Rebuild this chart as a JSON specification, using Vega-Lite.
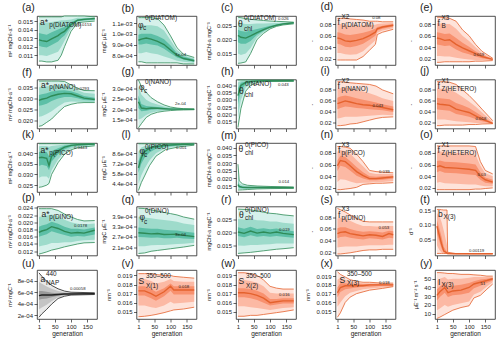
{
"$schema": "https://vega.github.io/schema/vega-lite/v6.json",
"padding": {"left": 6, "top": 2, "right": 0, "bottom": 0},
"background": "white",
"datasets": {
"d": [
{"p":"a","g":1,"lo":0.0103,"a":0.011,"b":0.0121,"m":0.0128,"c":0.0136,"d":0.0148,"hi":0.0155},
{"p":"a","g":10,"lo":0.0103,"a":0.011,"b":0.012,"m":0.0127,"c":0.0135,"d":0.0148,"hi":0.0155},
{"p":"a","g":25,"lo":0.0102,"a":0.0109,"b":0.0119,"m":0.0126,"c":0.0134,"d":0.0148,"hi":0.0155},
{"p":"a","g":40,"lo":0.0102,"a":0.0111,"b":0.0122,"m":0.0129,"c":0.0137,"d":0.0149,"hi":0.0155},
{"p":"a","g":60,"lo":0.0104,"a":0.0114,"b":0.0126,"m":0.0133,"c":0.014,"d":0.015,"hi":0.0155},
{"p":"a","g":70,"lo":0.011,"a":0.012,"b":0.013,"m":0.0136,"c":0.0142,"d":0.0151,"hi":0.0155},
{"p":"a","g":80,"lo":0.012,"a":0.0127,"b":0.0133,"m":0.0138,"c":0.0143,"d":0.0151,"hi":0.0156},
{"p":"a","g":100,"lo":0.0138,"a":0.0141,"b":0.0144,"m":0.0146,"c":0.0149,"d":0.0152,"hi":0.0156},
{"p":"a","g":120,"lo":0.0148,"a":0.0149,"b":0.015,"m":0.0151,"c":0.0152,"d":0.0154,"hi":0.0156},
{"p":"a","g":140,"lo":0.0149,"a":0.015,"b":0.0151,"m":0.0152,"c":0.0153,"d":0.0154,"hi":0.0156},
{"p":"a","g":173,"lo":0.015,"a":0.0151,"b":0.0152,"m":0.0153,"c":0.01535,"d":0.0154,"hi":0.0155},
{"p":"b","g":1,"lo":0.00074,"a":0.00082,"b":0.0009,"m":0.00094,"c":0.00099,"d":0.00107,"hi":0.00115},
{"p":"b","g":10,"lo":0.00074,"a":0.00082,"b":0.0009,"m":0.00095,"c":0.001,"d":0.00108,"hi":0.00115},
{"p":"b","g":25,"lo":0.00073,"a":0.00083,"b":0.00091,"m":0.00096,"c":0.001,"d":0.00108,"hi":0.00115},
{"p":"b","g":40,"lo":0.00073,"a":0.00082,"b":0.0009,"m":0.00095,"c":0.001,"d":0.00108,"hi":0.00115},
{"p":"b","g":60,"lo":0.00073,"a":0.00081,"b":0.00089,"m":0.00093,"c":0.00098,"d":0.00107,"hi":0.00114},
{"p":"b","g":80,"lo":0.00073,"a":0.00079,"b":0.00086,"m":0.0009,"c":0.00095,"d":0.00103,"hi":0.00108},
{"p":"b","g":100,"lo":0.00073,"a":0.00077,"b":0.00082,"m":0.00085,"c":0.00089,"d":0.00094,"hi":0.00098},
{"p":"b","g":120,"lo":0.00073,"a":0.00075,"b":0.00078,"m":0.0008,"c":0.00082,"d":0.00085,"hi":0.00087},
{"p":"b","g":140,"lo":0.00072,"a":0.00074,"b":0.00076,"m":0.00077,"c":0.00079,"d":0.0008,"hi":0.00081},
{"p":"b","g":173,"lo":0.00072,"a":0.00073,"b":0.00074,"m":0.00075,"c":0.00076,"d":0.00077,"hi":0.00078},
{"p":"c","g":1,"lo":0.0115,"a":0.015,"b":0.019,"m":0.0215,"c":0.0235,"d":0.0262,"hi":0.028},
{"p":"c","g":10,"lo":0.0116,"a":0.0145,"b":0.0185,"m":0.0208,"c":0.023,"d":0.0258,"hi":0.0278},
{"p":"c","g":25,"lo":0.012,"a":0.015,"b":0.0185,"m":0.0205,"c":0.0228,"d":0.0255,"hi":0.0275},
{"p":"c","g":40,"lo":0.015,"a":0.017,"b":0.0195,"m":0.0213,"c":0.0232,"d":0.0255,"hi":0.0272},
{"p":"c","g":60,"lo":0.02,"a":0.0208,"b":0.0217,"m":0.0225,"c":0.0238,"d":0.0257,"hi":0.027},
{"p":"c","g":80,"lo":0.0222,"a":0.0226,"b":0.023,"m":0.0235,"c":0.0243,"d":0.0257,"hi":0.0268},
{"p":"c","g":100,"lo":0.0238,"a":0.024,"b":0.0242,"m":0.0244,"c":0.0249,"d":0.0258,"hi":0.0266},
{"p":"c","g":120,"lo":0.0247,"a":0.0248,"b":0.0249,"m":0.0251,"c":0.0254,"d":0.0259,"hi":0.0265},
{"p":"c","g":140,"lo":0.0252,"a":0.0253,"b":0.0254,"m":0.0256,"c":0.0257,"d":0.026,"hi":0.0264},
{"p":"c","g":173,"lo":0.0256,"a":0.0257,"b":0.0258,"m":0.026,"c":0.02605,"d":0.0261,"hi":0.0262},
{"p":"d","g":1,"lo":0.018,"a":0.03,"b":0.046,"m":0.056,"c":0.066,"d":0.08,"hi":0.09},
{"p":"d","g":10,"lo":0.018,"a":0.03,"b":0.045,"m":0.055,"c":0.065,"d":0.08,"hi":0.09},
{"p":"d","g":25,"lo":0.018,"a":0.028,"b":0.041,"m":0.051,"c":0.062,"d":0.078,"hi":0.09},
{"p":"d","g":40,"lo":0.018,"a":0.027,"b":0.04,"m":0.05,"c":0.061,"d":0.077,"hi":0.089},
{"p":"d","g":60,"lo":0.018,"a":0.028,"b":0.042,"m":0.052,"c":0.063,"d":0.077,"hi":0.088},
{"p":"d","g":80,"lo":0.024,"a":0.033,"b":0.046,"m":0.055,"c":0.065,"d":0.078,"hi":0.087},
{"p":"d","g":100,"lo":0.035,"a":0.043,"b":0.053,"m":0.06,"c":0.068,"d":0.078,"hi":0.085},
{"p":"d","g":118,"lo":0.045,"a":0.052,"b":0.06,"m":0.066,"c":0.072,"d":0.079,"hi":0.085},
{"p":"d","g":124,"lo":0.062,"a":0.065,"b":0.069,"m":0.072,"c":0.075,"d":0.08,"hi":0.085},
{"p":"d","g":140,"lo":0.066,"a":0.069,"b":0.072,"m":0.075,"c":0.077,"d":0.081,"hi":0.084},
{"p":"d","g":173,"lo":0.071,"a":0.073,"b":0.076,"m":0.078,"c":0.08,"d":0.082,"hi":0.084},
{"p":"e","g":1,"lo":0.014,"a":0.025,"b":0.045,"m":0.056,"c":0.066,"d":0.082,"hi":0.092},
{"p":"e","g":10,"lo":0.014,"a":0.025,"b":0.044,"m":0.055,"c":0.065,"d":0.081,"hi":0.092},
{"p":"e","g":25,"lo":0.015,"a":0.024,"b":0.042,"m":0.052,"c":0.063,"d":0.08,"hi":0.091},
{"p":"e","g":40,"lo":0.015,"a":0.024,"b":0.043,"m":0.053,"c":0.064,"d":0.08,"hi":0.09},
{"p":"e","g":60,"lo":0.015,"a":0.022,"b":0.036,"m":0.045,"c":0.056,"d":0.072,"hi":0.085},
{"p":"e","g":80,"lo":0.015,"a":0.02,"b":0.031,"m":0.039,"c":0.048,"d":0.06,"hi":0.07},
{"p":"e","g":100,"lo":0.015,"a":0.019,"b":0.028,"m":0.034,"c":0.041,"d":0.051,"hi":0.06},
{"p":"e","g":120,"lo":0.016,"a":0.018,"b":0.024,"m":0.029,"c":0.033,"d":0.04,"hi":0.045},
{"p":"e","g":140,"lo":0.016,"a":0.018,"b":0.021,"m":0.024,"c":0.027,"d":0.03,"hi":0.033},
{"p":"e","g":173,"lo":0.017,"a":0.0175,"b":0.018,"m":0.019,"c":0.0195,"d":0.02,"hi":0.021},
{"p":"f","g":1,"lo":0.0172,"a":0.0215,"b":0.0265,"m":0.029,"c":0.0315,"d":0.035,"hi":0.0378},
{"p":"f","g":10,"lo":0.0175,"a":0.0218,"b":0.0268,"m":0.0295,"c":0.0318,"d":0.0352,"hi":0.0378},
{"p":"f","g":25,"lo":0.019,"a":0.0228,"b":0.0275,"m":0.03,"c":0.0322,"d":0.0354,"hi":0.0378},
{"p":"f","g":40,"lo":0.0205,"a":0.024,"b":0.0287,"m":0.031,"c":0.033,"d":0.0357,"hi":0.0378},
{"p":"f","g":60,"lo":0.0235,"a":0.0262,"b":0.0298,"m":0.0318,"c":0.0335,"d":0.036,"hi":0.0378},
{"p":"f","g":80,"lo":0.0262,"a":0.028,"b":0.0305,"m":0.0322,"c":0.0336,"d":0.0358,"hi":0.0376},
{"p":"f","g":100,"lo":0.0272,"a":0.0285,"b":0.0305,"m":0.032,"c":0.0332,"d":0.035,"hi":0.036},
{"p":"f","g":120,"lo":0.0278,"a":0.0284,"b":0.03,"m":0.031,"c":0.0322,"d":0.0337,"hi":0.0345},
{"p":"f","g":140,"lo":0.028,"a":0.0283,"b":0.0292,"m":0.03,"c":0.031,"d":0.0325,"hi":0.0335},
{"p":"f","g":173,"lo":0.028,"a":0.0283,"b":0.0289,"m":0.0294,"c":0.0302,"d":0.032,"hi":0.0334},
{"p":"g","g":1,"lo":0.00011,"a":0.00015,"b":0.000205,"m":0.000235,"c":0.000265,"d":0.00031,"hi":0.00034},
{"p":"g","g":10,"lo":0.00013,"a":0.000155,"b":0.00019,"m":0.000205,"c":0.000225,"d":0.00027,"hi":0.00031},
{"p":"g","g":25,"lo":0.00016,"a":0.000172,"b":0.000192,"m":0.000202,"c":0.000215,"d":0.000245,"hi":0.00028},
{"p":"g","g":40,"lo":0.000175,"a":0.000183,"b":0.000197,"m":0.000205,"c":0.000213,"d":0.000232,"hi":0.000255},
{"p":"g","g":60,"lo":0.000185,"a":0.00019,"b":0.000199,"m":0.000204,"c":0.00021,"d":0.000222,"hi":0.000235},
{"p":"g","g":80,"lo":0.00019,"a":0.000193,"b":0.000199,"m":0.000202,"c":0.000206,"d":0.000213,"hi":0.00022},
{"p":"g","g":100,"lo":0.000193,"a":0.000195,"b":0.000198,"m":0.0002,"c":0.000203,"d":0.000207,"hi":0.00021},
{"p":"g","g":120,"lo":0.000195,"a":0.000196,"b":0.000198,"m":0.0002,"c":0.000202,"d":0.000204,"hi":0.000205},
{"p":"g","g":140,"lo":0.000196,"a":0.000197,"b":0.000198,"m":0.0002,"c":0.000201,"d":0.000202,"hi":0.000202},
{"p":"g","g":173,"lo":0.000197,"a":0.000197,"b":0.000198,"m":0.000199,"c":0.0002,"d":0.0002,"hi":0.0002},
{"p":"h","g":1,"lo":0.0112,"a":0.018,"b":0.027,"m":0.033,"c":0.038,"d":0.042,"hi":0.0436},
{"p":"h","g":10,"lo":0.024,"a":0.03,"b":0.0365,"m":0.04,"c":0.0418,"d":0.043,"hi":0.0436},
{"p":"h","g":25,"lo":0.036,"a":0.0385,"b":0.041,"m":0.042,"c":0.0427,"d":0.0433,"hi":0.0436},
{"p":"h","g":40,"lo":0.04,"a":0.041,"b":0.042,"m":0.0426,"c":0.043,"d":0.0434,"hi":0.0436},
{"p":"h","g":60,"lo":0.042,"a":0.0424,"b":0.0428,"m":0.043,"c":0.0432,"d":0.0434,"hi":0.0436},
{"p":"h","g":80,"lo":0.0426,"a":0.0428,"b":0.043,"m":0.0431,"c":0.0432,"d":0.0434,"hi":0.0436},
{"p":"h","g":173,"lo":0.0428,"a":0.0429,"b":0.043,"m":0.0431,"c":0.0432,"d":0.0434,"hi":0.0436},
{"p":"i","g":1,"lo":0.015,"a":0.028,"b":0.045,"m":0.055,"c":0.066,"d":0.082,"hi":0.095},
{"p":"i","g":10,"lo":0.015,"a":0.029,"b":0.047,"m":0.057,"c":0.068,"d":0.083,"hi":0.095},
{"p":"i","g":25,"lo":0.016,"a":0.031,"b":0.05,"m":0.06,"c":0.07,"d":0.084,"hi":0.094},
{"p":"i","g":40,"lo":0.018,"a":0.031,"b":0.049,"m":0.058,"c":0.068,"d":0.083,"hi":0.093},
{"p":"i","g":60,"lo":0.019,"a":0.031,"b":0.047,"m":0.055,"c":0.065,"d":0.08,"hi":0.092},
{"p":"i","g":80,"lo":0.022,"a":0.032,"b":0.046,"m":0.053,"c":0.062,"d":0.077,"hi":0.091},
{"p":"i","g":100,"lo":0.025,"a":0.033,"b":0.045,"m":0.052,"c":0.06,"d":0.074,"hi":0.09},
{"p":"i","g":120,"lo":0.028,"a":0.034,"b":0.044,"m":0.05,"c":0.057,"d":0.07,"hi":0.087},
{"p":"i","g":140,"lo":0.03,"a":0.035,"b":0.043,"m":0.048,"c":0.054,"d":0.065,"hi":0.08},
{"p":"i","g":173,"lo":0.031,"a":0.034,"b":0.04,"m":0.044,"c":0.05,"d":0.06,"hi":0.073},
{"p":"j","g":1,"lo":0.015,"a":0.026,"b":0.045,"m":0.055,"c":0.066,"d":0.083,"hi":0.095},
{"p":"j","g":10,"lo":0.015,"a":0.026,"b":0.044,"m":0.054,"c":0.065,"d":0.082,"hi":0.095},
{"p":"j","g":25,"lo":0.016,"a":0.026,"b":0.043,"m":0.053,"c":0.064,"d":0.082,"hi":0.095},
{"p":"j","g":40,"lo":0.016,"a":0.025,"b":0.042,"m":0.052,"c":0.063,"d":0.081,"hi":0.094},
{"p":"j","g":60,"lo":0.016,"a":0.023,"b":0.036,"m":0.045,"c":0.056,"d":0.075,"hi":0.09},
{"p":"j","g":80,"lo":0.016,"a":0.022,"b":0.034,"m":0.042,"c":0.052,"d":0.067,"hi":0.08},
{"p":"j","g":100,"lo":0.017,"a":0.021,"b":0.031,"m":0.039,"c":0.047,"d":0.059,"hi":0.07},
{"p":"j","g":120,"lo":0.017,"a":0.02,"b":0.027,"m":0.033,"c":0.04,"d":0.05,"hi":0.058},
{"p":"j","g":140,"lo":0.018,"a":0.02,"b":0.023,"m":0.027,"c":0.032,"d":0.039,"hi":0.045},
{"p":"j","g":173,"lo":0.0185,"a":0.0186,"b":0.0188,"m":0.019,"c":0.02,"d":0.022,"hi":0.024},
{"p":"k","g":1,"lo":0.024,"a":0.0285,"b":0.034,"m":0.0378,"c":0.0405,"d":0.0432,"hi":0.0444},
{"p":"k","g":10,"lo":0.0242,"a":0.029,"b":0.0345,"m":0.038,"c":0.0407,"d":0.0433,"hi":0.0444},
{"p":"k","g":25,"lo":0.025,"a":0.029,"b":0.034,"m":0.0375,"c":0.0405,"d":0.0433,"hi":0.0444},
{"p":"k","g":32,"lo":0.0258,"a":0.028,"b":0.032,"m":0.0342,"c":0.0385,"d":0.043,"hi":0.0444},
{"p":"k","g":40,"lo":0.03,"a":0.032,"b":0.036,"m":0.0385,"c":0.041,"d":0.0433,"hi":0.0444},
{"p":"k","g":60,"lo":0.0355,"a":0.037,"b":0.0395,"m":0.041,"c":0.0422,"d":0.0436,"hi":0.0444},
{"p":"k","g":80,"lo":0.0395,"a":0.0405,"b":0.0418,"m":0.0428,"c":0.0435,"d":0.044,"hi":0.0444},
{"p":"k","g":100,"lo":0.0415,"a":0.042,"b":0.043,"m":0.0436,"c":0.0439,"d":0.0442,"hi":0.0444},
{"p":"k","g":120,"lo":0.0425,"a":0.0429,"b":0.0435,"m":0.0439,"c":0.0441,"d":0.0443,"hi":0.0444},
{"p":"k","g":173,"lo":0.0434,"a":0.0436,"b":0.0439,"m":0.0442,"c":0.0443,"d":0.04435,"hi":0.0444},
{"p":"l","g":1,"lo":0.00035,"a":0.00044,"b":0.00059,"m":0.00066,"c":0.00075,"d":0.00088,"hi":0.00099},
{"p":"l","g":10,"lo":0.00046,"a":0.00056,"b":0.00072,"m":0.0008,"c":0.00086,"d":0.00094,"hi":0.00099},
{"p":"l","g":20,"lo":0.00055,"a":0.00065,"b":0.0008,"m":0.00088,"c":0.00092,"d":0.00096,"hi":0.00099},
{"p":"l","g":35,"lo":0.00069,"a":0.00076,"b":0.00087,"m":0.00093,"c":0.00095,"d":0.00097,"hi":0.00099},
{"p":"l","g":55,"lo":0.00082,"a":0.00086,"b":0.00092,"m":0.00095,"c":0.00097,"d":0.00098,"hi":0.00099},
{"p":"l","g":85,"lo":0.00091,"a":0.00093,"b":0.00095,"m":0.00097,"c":0.00098,"d":0.000985,"hi":0.00099},
{"p":"l","g":130,"lo":0.00095,"a":0.00096,"b":0.00097,"m":0.00098,"c":0.000985,"d":0.00099,"hi":0.000992},
{"p":"l","g":173,"lo":0.00097,"a":0.000975,"b":0.00098,"m":0.000985,"c":0.00099,"d":0.000992,"hi":0.000995},
{"p":"m","g":1,"lo":0.0125,"a":0.0135,"b":0.015,"m":0.016,"c":0.0185,"d":0.024,"hi":0.0293},
{"p":"m","g":5,"lo":0.0125,"a":0.0132,"b":0.014,"m":0.0148,"c":0.0155,"d":0.0168,"hi":0.0185},
{"p":"m","g":15,"lo":0.0126,"a":0.0131,"b":0.0137,"m":0.0142,"c":0.0148,"d":0.0156,"hi":0.0165},
{"p":"m","g":30,"lo":0.0128,"a":0.0132,"b":0.0137,"m":0.0141,"c":0.0145,"d":0.0151,"hi":0.0156},
{"p":"m","g":60,"lo":0.0132,"a":0.0134,"b":0.0138,"m":0.0141,"c":0.0143,"d":0.0147,"hi":0.0151},
{"p":"m","g":100,"lo":0.0134,"a":0.0136,"b":0.0139,"m":0.0141,"c":0.0142,"d":0.0145,"hi":0.0148},
{"p":"m","g":140,"lo":0.0135,"a":0.0137,"b":0.0139,"m":0.0141,"c":0.0142,"d":0.0144,"hi":0.0146},
{"p":"m","g":173,"lo":0.0136,"a":0.0138,"b":0.0139,"m":0.014,"c":0.0141,"d":0.0143,"hi":0.0145},
{"p":"n","g":1,"lo":0.017,"a":0.03,"b":0.049,"m":0.058,"c":0.067,"d":0.082,"hi":0.091},
{"p":"n","g":10,"lo":0.017,"a":0.035,"b":0.058,"m":0.067,"c":0.075,"d":0.085,"hi":0.091},
{"p":"n","g":25,"lo":0.018,"a":0.034,"b":0.056,"m":0.065,"c":0.073,"d":0.083,"hi":0.09},
{"p":"n","g":40,"lo":0.019,"a":0.031,"b":0.05,"m":0.058,"c":0.066,"d":0.079,"hi":0.088},
{"p":"n","g":60,"lo":0.021,"a":0.028,"b":0.041,"m":0.048,"c":0.056,"d":0.068,"hi":0.078},
{"p":"n","g":80,"lo":0.026,"a":0.029,"b":0.036,"m":0.041,"c":0.047,"d":0.057,"hi":0.065},
{"p":"n","g":100,"lo":0.027,"a":0.029,"b":0.033,"m":0.036,"c":0.04,"d":0.046,"hi":0.05},
{"p":"n","g":120,"lo":0.028,"a":0.03,"b":0.033,"m":0.036,"c":0.039,"d":0.044,"hi":0.048},
{"p":"n","g":140,"lo":0.028,"a":0.03,"b":0.034,"m":0.037,"c":0.04,"d":0.044,"hi":0.047},
{"p":"n","g":173,"lo":0.029,"a":0.032,"b":0.036,"m":0.039,"c":0.041,"d":0.044,"hi":0.046},
{"p":"o","g":1,"lo":0.017,"a":0.029,"b":0.047,"m":0.056,"c":0.066,"d":0.082,"hi":0.092},
{"p":"o","g":10,"lo":0.017,"a":0.03,"b":0.049,"m":0.058,"c":0.067,"d":0.083,"hi":0.092},
{"p":"o","g":25,"lo":0.017,"a":0.028,"b":0.046,"m":0.055,"c":0.065,"d":0.081,"hi":0.092},
{"p":"o","g":60,"lo":0.017,"a":0.027,"b":0.045,"m":0.054,"c":0.064,"d":0.08,"hi":0.092},
{"p":"o","g":100,"lo":0.017,"a":0.026,"b":0.043,"m":0.052,"c":0.062,"d":0.079,"hi":0.092},
{"p":"o","g":120,"lo":0.018,"a":0.026,"b":0.042,"m":0.05,"c":0.06,"d":0.077,"hi":0.091},
{"p":"o","g":135,"lo":0.018,"a":0.024,"b":0.034,"m":0.04,"c":0.047,"d":0.058,"hi":0.065},
{"p":"o","g":150,"lo":0.019,"a":0.023,"b":0.029,"m":0.034,"c":0.038,"d":0.045,"hi":0.05},
{"p":"o","g":173,"lo":0.02,"a":0.023,"b":0.027,"m":0.03,"c":0.034,"d":0.04,"hi":0.044},
{"p":"p","g":1,"lo":0.0112,"a":0.0133,"b":0.016,"m":0.0172,"c":0.0188,"d":0.0215,"hi":0.0238},
{"p":"p","g":10,"lo":0.0114,"a":0.0135,"b":0.0163,"m":0.0176,"c":0.0191,"d":0.0217,"hi":0.0238},
{"p":"p","g":25,"lo":0.0118,"a":0.0138,"b":0.0167,"m":0.018,"c":0.0195,"d":0.0219,"hi":0.0238},
{"p":"p","g":40,"lo":0.0123,"a":0.0143,"b":0.0175,"m":0.0188,"c":0.0202,"d":0.0222,"hi":0.0238},
{"p":"p","g":60,"lo":0.0127,"a":0.0143,"b":0.017,"m":0.0183,"c":0.0196,"d":0.0217,"hi":0.0233},
{"p":"p","g":80,"lo":0.0132,"a":0.0145,"b":0.0165,"m":0.0175,"c":0.0188,"d":0.0207,"hi":0.0223},
{"p":"p","g":100,"lo":0.0136,"a":0.0145,"b":0.016,"m":0.017,"c":0.0182,"d":0.02,"hi":0.0215},
{"p":"p","g":120,"lo":0.014,"a":0.0148,"b":0.0162,"m":0.0172,"c":0.0182,"d":0.0196,"hi":0.0208},
{"p":"p","g":140,"lo":0.0143,"a":0.015,"b":0.0161,"m":0.017,"c":0.018,"d":0.0194,"hi":0.0204},
{"p":"p","g":173,"lo":0.0144,"a":0.0152,"b":0.0166,"m":0.0178,"c":0.0186,"d":0.0197,"hi":0.0205},
{"p":"q","g":1,"lo":0.000172,"a":0.000215,"b":0.00027,"m":0.000295,"c":0.000325,"d":0.00039,"hi":0.00044},
{"p":"q","g":20,"lo":0.000175,"a":0.000215,"b":0.000268,"m":0.000292,"c":0.000322,"d":0.000385,"hi":0.000438},
{"p":"q","g":40,"lo":0.000185,"a":0.00022,"b":0.000265,"m":0.000288,"c":0.000318,"d":0.00038,"hi":0.00043},
{"p":"q","g":60,"lo":0.00019,"a":0.000222,"b":0.000266,"m":0.00029,"c":0.000318,"d":0.000375,"hi":0.000422},
{"p":"q","g":80,"lo":0.000195,"a":0.000222,"b":0.000262,"m":0.000284,"c":0.000312,"d":0.00037,"hi":0.000415},
{"p":"q","g":100,"lo":0.0002,"a":0.000225,"b":0.000262,"m":0.000285,"c":0.00031,"d":0.000365,"hi":0.000408},
{"p":"q","g":120,"lo":0.000205,"a":0.000228,"b":0.000265,"m":0.000286,"c":0.000308,"d":0.00036,"hi":0.0004},
{"p":"q","g":140,"lo":0.00021,"a":0.00023,"b":0.00026,"m":0.00028,"c":0.000302,"d":0.00035,"hi":0.000388},
{"p":"q","g":173,"lo":0.00022,"a":0.000235,"b":0.000258,"m":0.000272,"c":0.000295,"d":0.00034,"hi":0.000375},
{"p":"r","g":1,"lo":0.0118,"a":0.0148,"b":0.0185,"m":0.02,"c":0.0218,"d":0.025,"hi":0.0288},
{"p":"r","g":20,"lo":0.012,"a":0.0147,"b":0.018,"m":0.0195,"c":0.0213,"d":0.0248,"hi":0.0287},
{"p":"r","g":40,"lo":0.0122,"a":0.015,"b":0.0188,"m":0.0204,"c":0.022,"d":0.025,"hi":0.0285},
{"p":"r","g":60,"lo":0.0125,"a":0.015,"b":0.0182,"m":0.0196,"c":0.0212,"d":0.0245,"hi":0.0281},
{"p":"r","g":80,"lo":0.0128,"a":0.0152,"b":0.0185,"m":0.02,"c":0.0215,"d":0.0244,"hi":0.0276},
{"p":"r","g":100,"lo":0.0131,"a":0.0153,"b":0.0182,"m":0.0196,"c":0.0211,"d":0.024,"hi":0.0272},
{"p":"r","g":120,"lo":0.0134,"a":0.0156,"b":0.0185,"m":0.02,"c":0.0214,"d":0.024,"hi":0.027},
{"p":"r","g":140,"lo":0.0136,"a":0.0156,"b":0.0182,"m":0.0195,"c":0.0209,"d":0.0236,"hi":0.0266},
{"p":"r","g":173,"lo":0.014,"a":0.0156,"b":0.0178,"m":0.019,"c":0.0203,"d":0.0232,"hi":0.0262},
{"p":"s","g":1,"lo":0.017,"a":0.028,"b":0.044,"m":0.052,"c":0.061,"d":0.078,"hi":0.095},
{"p":"s","g":10,"lo":0.017,"a":0.029,"b":0.046,"m":0.054,"c":0.063,"d":0.079,"hi":0.093},
{"p":"s","g":25,"lo":0.018,"a":0.03,"b":0.047,"m":0.055,"c":0.063,"d":0.078,"hi":0.089},
{"p":"s","g":40,"lo":0.019,"a":0.03,"b":0.045,"m":0.052,"c":0.06,"d":0.074,"hi":0.084},
{"p":"s","g":60,"lo":0.021,"a":0.03,"b":0.043,"m":0.05,"c":0.057,"d":0.069,"hi":0.078},
{"p":"s","g":80,"lo":0.023,"a":0.031,"b":0.042,"m":0.048,"c":0.055,"d":0.065,"hi":0.073},
{"p":"s","g":100,"lo":0.024,"a":0.032,"b":0.044,"m":0.05,"c":0.056,"d":0.065,"hi":0.072},
{"p":"s","g":120,"lo":0.024,"a":0.032,"b":0.043,"m":0.049,"c":0.055,"d":0.064,"hi":0.072},
{"p":"s","g":140,"lo":0.025,"a":0.032,"b":0.042,"m":0.047,"c":0.054,"d":0.064,"hi":0.072},
{"p":"s","g":160,"lo":0.025,"a":0.033,"b":0.045,"m":0.052,"c":0.057,"d":0.065,"hi":0.072},
{"p":"s","g":173,"lo":0.025,"a":0.033,"b":0.044,"m":0.05,"c":0.056,"d":0.065,"hi":0.072},
{"p":"t","g":1,"lo":0.002,"a":0.03,"b":0.07,"m":0.095,"c":0.115,"d":0.14,"hi":0.152},
{"p":"t","g":8,"lo":0.002,"a":0.015,"b":0.045,"m":0.065,"c":0.09,"d":0.13,"hi":0.152},
{"p":"t","g":15,"lo":0.002,"a":0.005,"b":0.02,"m":0.035,"c":0.06,"d":0.11,"hi":0.151},
{"p":"t","g":22,"lo":0.002,"a":0.003,"b":0.006,"m":0.01,"c":0.025,"d":0.08,"hi":0.15},
{"p":"t","g":32,"lo":0.0015,"a":0.002,"b":0.003,"m":0.004,"c":0.006,"d":0.03,"hi":0.15},
{"p":"t","g":34,"lo":0.0013,"a":0.0015,"b":0.0018,"m":0.002,"c":0.003,"d":0.004,"hi":0.006},
{"p":"t","g":60,"lo":0.0011,"a":0.0012,"b":0.0012,"m":0.0012,"c":0.0013,"d":0.0014,"hi":0.0015},
{"p":"t","g":173,"lo":0.0011,"a":0.0011,"b":0.0012,"m":0.0012,"c":0.0012,"d":0.0013,"hi":0.0014},
{"p":"u","g":1,"lo":0.00016,"a":0.0003,"b":0.00047,"m":0.00054,"c":0.00062,"d":0.00078,"hi":0.00094},
{"p":"u","g":10,"lo":0.00022,"a":0.00033,"b":0.00048,"m":0.00055,"c":0.00062,"d":0.00075,"hi":0.00088},
{"p":"u","g":25,"lo":0.0003,"a":0.00038,"b":0.00049,"m":0.00055,"c":0.00061,"d":0.0007,"hi":0.00079},
{"p":"u","g":40,"lo":0.00039,"a":0.00044,"b":0.00051,"m":0.00055,"c":0.00059,"d":0.00066,"hi":0.00072},
{"p":"u","g":60,"lo":0.00049,"a":0.00051,"b":0.00054,"m":0.00056,"c":0.00058,"d":0.00062,"hi":0.00066},
{"p":"u","g":80,"lo":0.00053,"a":0.00054,"b":0.00056,"m":0.00057,"c":0.00058,"d":0.0006,"hi":0.00062},
{"p":"u","g":100,"lo":0.00055,"a":0.000555,"b":0.000565,"m":0.00057,"c":0.00058,"d":0.00059,"hi":0.0006},
{"p":"u","g":173,"lo":0.00056,"a":0.000565,"b":0.00057,"m":0.000575,"c":0.00058,"d":0.000585,"hi":0.00059},
{"p":"v","g":1,"lo":0.01445,"a":0.0157,"b":0.0168,"m":0.0173,"c":0.0178,"d":0.0186,"hi":0.0192},
{"p":"v","g":20,"lo":0.0145,"a":0.0157,"b":0.0168,"m":0.0173,"c":0.0178,"d":0.0186,"hi":0.0192},
{"p":"v","g":40,"lo":0.0146,"a":0.0155,"b":0.0165,"m":0.017,"c":0.0175,"d":0.0184,"hi":0.0192},
{"p":"v","g":55,"lo":0.0147,"a":0.0154,"b":0.0162,"m":0.0167,"c":0.0172,"d":0.0181,"hi":0.0191},
{"p":"v","g":80,"lo":0.0149,"a":0.0157,"b":0.0167,"m":0.0172,"c":0.0176,"d":0.0183,"hi":0.019},
{"p":"v","g":100,"lo":0.0151,"a":0.0161,"b":0.0173,"m":0.0178,"c":0.0181,"d":0.0186,"hi":0.019},
{"p":"v","g":110,"lo":0.0152,"a":0.0159,"b":0.0169,"m":0.0174,"c":0.0178,"d":0.0184,"hi":0.0189},
{"p":"v","g":140,"lo":0.0153,"a":0.016,"b":0.0169,"m":0.0174,"c":0.0178,"d":0.0183,"hi":0.0188},
{"p":"v","g":173,"lo":0.0155,"a":0.0161,"b":0.0169,"m":0.0174,"c":0.0178,"d":0.0183,"hi":0.0187},
{"p":"w","g":1,"lo":0.0145,"a":0.0156,"b":0.0166,"m":0.0171,"c":0.0176,"d":0.0185,"hi":0.0193},
{"p":"w","g":20,"lo":0.0145,"a":0.0156,"b":0.0166,"m":0.0171,"c":0.0176,"d":0.0185,"hi":0.0193},
{"p":"w","g":40,"lo":0.0146,"a":0.0155,"b":0.0165,"m":0.017,"c":0.0175,"d":0.0184,"hi":0.0192},
{"p":"w","g":60,"lo":0.0146,"a":0.0154,"b":0.0163,"m":0.0168,"c":0.0173,"d":0.0182,"hi":0.019},
{"p":"w","g":80,"lo":0.0147,"a":0.0153,"b":0.016,"m":0.0165,"c":0.017,"d":0.0178,"hi":0.0185},
{"p":"w","g":100,"lo":0.0148,"a":0.0152,"b":0.0157,"m":0.016,"c":0.0164,"d":0.0171,"hi":0.0178},
{"p":"w","g":120,"lo":0.0149,"a":0.0153,"b":0.0158,"m":0.0161,"c":0.0164,"d":0.017,"hi":0.0176},
{"p":"w","g":140,"lo":0.015,"a":0.0154,"b":0.0159,"m":0.0162,"c":0.0165,"d":0.017,"hi":0.0175},
{"p":"w","g":173,"lo":0.0152,"a":0.0155,"b":0.0159,"m":0.0162,"c":0.0165,"d":0.017,"hi":0.0175},
{"p":"x","g":1,"lo":0.0143,"a":0.0155,"b":0.0166,"m":0.0171,"c":0.0177,"d":0.0186,"hi":0.0195},
{"p":"x","g":10,"lo":0.0148,"a":0.016,"b":0.0172,"m":0.0177,"c":0.0182,"d":0.0188,"hi":0.0192},
{"p":"x","g":25,"lo":0.016,"a":0.0167,"b":0.0175,"m":0.0179,"c":0.0182,"d":0.0186,"hi":0.0189},
{"p":"x","g":40,"lo":0.0166,"a":0.0171,"b":0.0176,"m":0.0179,"c":0.0181,"d":0.0184,"hi":0.0186},
{"p":"x","g":60,"lo":0.017,"a":0.0173,"b":0.0177,"m":0.0179,"c":0.0181,"d":0.0183,"hi":0.0184},
{"p":"x","g":80,"lo":0.0172,"a":0.0175,"b":0.0178,"m":0.0179,"c":0.0181,"d":0.0182,"hi":0.0183},
{"p":"x","g":100,"lo":0.0174,"a":0.0176,"b":0.0178,"m":0.018,"c":0.0181,"d":0.0182,"hi":0.0183},
{"p":"x","g":140,"lo":0.0176,"a":0.0177,"b":0.0179,"m":0.018,"c":0.0181,"d":0.0182,"hi":0.0182},
{"p":"x","g":173,"lo":0.0178,"a":0.0178,"b":0.0179,"m":0.018,"c":0.0181,"d":0.0181,"hi":0.0182},
{"p":"y","g":1,"lo":4.5,"a":14,"b":25,"m":31,"c":38,"d":48,"hi":57},
{"p":"y","g":10,"lo":6,"a":16,"b":29,"m":35,"c":41,"d":50,"hi":57},
{"p":"y","g":25,"lo":9,"a":20,"b":34,"m":40,"c":45,"d":52,"hi":56.5},
{"p":"y","g":35,"lo":11,"a":18,"b":29,"m":34,"c":40,"d":49,"hi":56},
{"p":"y","g":50,"lo":14,"a":20,"b":31,"m":36,"c":42,"d":50,"hi":56},
{"p":"y","g":75,"lo":17,"a":22,"b":32,"m":37,"c":43,"d":50,"hi":55},
{"p":"y","g":100,"lo":19,"a":24,"b":34,"m":40,"c":45,"d":51,"hi":55},
{"p":"y","g":115,"lo":28,"a":32,"b":39,"m":44,"c":47,"d":52,"hi":54.5},
{"p":"y","g":135,"lo":31,"a":35,"b":42,"m":46,"c":49,"d":52,"hi":54},
{"p":"y","g":155,"lo":38,"a":41,"b":45,"m":48,"c":50,"d":52,"hi":53},
{"p":"y","g":173,"lo":44,"a":46,"b":48,"m":50,"c":51,"d":52,"hi":53}
],
"lab": [
{"p":"a","g":4.3,"y":0.01484,"t":"a*","k":"s"},{"p":"a","g":33,"y":0.0146,"t":"p(DIATOM)","k":"u"},{"p":"a","g":123,"y":0.0146,"t":"0.0153","k":"v"},
{"p":"b","g":0,"y":0.001086,"t":"φ","k":"s"},{"p":"b","g":15,"y":0.001049,"t":"c","k":"u"},{"p":"b","g":21,"y":0.001142,"t":"0(DIATOM)","k":"u"},{"p":"b","g":114,"y":0.000807,"t":"7e-04","k":"v"},
{"p":"c","g":1.2,"y":0.02547,"t":"θ","k":"s"},{"p":"c","g":19.7,"y":0.0239,"t":"chl","k":"u"},{"p":"c","g":19.7,"y":0.0277,"t":"0(DIATOM)","k":"u"},{"p":"c","g":124.5,"y":0.0273,"t":"0.026","k":"v"},
{"p":"d","g":1.2,"y":0.0828,"t":"f","k":"s"},{"p":"d","g":13.5,"y":0.0923,"t":"X2","k":"u"},{"p":"d","g":13.5,"y":0.0785,"t":"p(DIATOM)","k":"u"},{"p":"d","g":108,"y":0.0897,"t":"0.08","k":"v"},
{"p":"e","g":2.7,"y":0.0811,"t":"f","k":"s"},{"p":"e","g":15,"y":0.0914,"t":"X3","k":"u"},{"p":"e","g":15,"y":0.0759,"t":"B","k":"u"},{"p":"e","g":113.7,"y":0.0267,"t":"0.019","k":"v"},
{"p":"f","g":7.3,"y":0.036,"t":"a*","k":"s"},{"p":"f","g":33,"y":0.0349,"t":"p(NANO)","k":"u"},{"p":"f","g":115,"y":0.034,"t":"0.0293","k":"v"},
{"p":"g","g":2.7,"y":0.000304,"t":"φ","k":"s"},{"p":"g","g":18,"y":0.000285,"t":"c","k":"u"},{"p":"g","g":21,"y":0.000332,"t":"0(NANO)","k":"u"},{"p":"g","g":113.7,"y":0.0002245,"t":"2e-04","k":"v"},
{"p":"h","g":4.25,"y":0.0361,"t":"θ","k":"s"},{"p":"h","g":22.75,"y":0.0334,"t":"chl","k":"u"},{"p":"h","g":22.75,"y":0.0406,"t":"0(NANO)","k":"u"},{"p":"h","g":124.5,"y":0.0402,"t":"0.043","k":"v"},
{"p":"i","g":1.2,"y":0.0863,"t":"f","k":"s"},{"p":"i","g":13.5,"y":0.0963,"t":"X2","k":"u"},{"p":"i","g":13.5,"y":0.0808,"t":"p(NANO)","k":"u"},{"p":"i","g":109,"y":0.0508,"t":"0.043","k":"v"},
{"p":"j","g":2.7,"y":0.0863,"t":"f","k":"s"},{"p":"j","g":15,"y":0.0963,"t":"X1","k":"u"},{"p":"j","g":15,"y":0.0808,"t":"Z(HETERO)","k":"u"},{"p":"j","g":120,"y":0.0267,"t":"0.018","k":"v"},
{"p":"k","g":5.8,"y":0.0412,"t":"a*","k":"s"},{"p":"k","g":33,"y":0.0398,"t":"p(PICO)","k":"u"},{"p":"k","g":109,"y":0.0424,"t":"0.0443","k":"v"},
{"p":"l","g":4.25,"y":0.000884,"t":"φ","k":"s"},{"p":"l","g":18,"y":0.000836,"t":"c","k":"u"},{"p":"l","g":21.2,"y":0.000952,"t":"0(PICO)","k":"u"},{"p":"l","g":116.8,"y":0.000938,"t":"0.001","k":"v"},
{"p":"m","g":2.7,"y":0.0392,"t":"θ","k":"s"},{"p":"m","g":22.75,"y":0.0369,"t":"chl","k":"u"},{"p":"m","g":22.75,"y":0.0415,"t":"0(PICO)","k":"u"},{"p":"m","g":126,"y":0.018,"t":"0.014","k":"v"},
{"p":"n","g":2.7,"y":0.085,"t":"f","k":"s"},{"p":"n","g":13.5,"y":0.0944,"t":"X3","k":"u"},{"p":"n","g":13.5,"y":0.0799,"t":"p(PICO)","k":"u"},{"p":"n","g":129,"y":0.0481,"t":"0.039","k":"v"},
{"p":"o","g":2.7,"y":0.085,"t":"f","k":"s"},{"p":"o","g":15,"y":0.0944,"t":"X1","k":"u"},{"p":"o","g":15,"y":0.0799,"t":"Z(HETERO)","k":"u"},{"p":"o","g":126,"y":0.0413,"t":"0.03","k":"v"},
{"p":"p","g":8.9,"y":0.0222,"t":"a*","k":"s"},{"p":"p","g":33,"y":0.0216,"t":"p(DINO)","k":"u"},{"p":"p","g":109,"y":0.019,"t":"0.0178","k":"v"},
{"p":"q","g":4.25,"y":0.000385,"t":"φ","k":"s"},{"p":"q","g":18,"y":0.00036,"t":"c","k":"u"},{"p":"q","g":21.2,"y":0.000422,"t":"0(DINO)","k":"u"},{"p":"q","g":113.7,"y":0.00028,"t":"3e-04","k":"v"},
{"p":"r","g":4.25,"y":0.0265,"t":"θ","k":"s"},{"p":"r","g":22.75,"y":0.0252,"t":"chl","k":"u"},{"p":"r","g":22.75,"y":0.0283,"t":"0(DINO)","k":"u"},{"p":"r","g":127.6,"y":0.0208,"t":"0.019","k":"v"},
{"p":"s","g":2.7,"y":0.0838,"t":"f","k":"s"},{"p":"s","g":13.5,"y":0.0933,"t":"X3","k":"u"},{"p":"s","g":13.5,"y":0.0787,"t":"p(DINO)","k":"u"},{"p":"s","g":127.6,"y":0.0607,"t":"0.053","k":"v"},
{"p":"t","g":4.25,"y":0.136,"t":"b","k":"s"},{"p":"t","g":21.2,"y":0.126,"t":"X(3)","k":"u"},{"p":"t","g":99.8,"y":0.0087,"t":"0.00119","k":"v"},
{"p":"u","g":5.8,"y":0.000832,"t":"a","k":"s"},{"p":"u","g":22.75,"y":0.00092,"t":"440","k":"u"},{"p":"u","g":22.75,"y":0.00077,"t":"NAP","k":"u"},{"p":"u","g":96.75,"y":0.000648,"t":"0.00058","k":"v"},
{"p":"v","g":1.2,"y":0.01839,"t":"S","k":"s"},{"p":"v","g":24.3,"y":0.01894,"t":"350–500","k":"u"},{"p":"v","g":24.3,"y":0.01789,"t":"X(1)","k":"u"},{"p":"v","g":124.5,"y":0.01778,"t":"0.018","k":"v"},
{"p":"w","g":2.7,"y":0.01839,"t":"S","k":"s"},{"p":"w","g":25.8,"y":0.01894,"t":"350–500","k":"u"},{"p":"w","g":25.8,"y":0.01789,"t":"X(2)","k":"u"},{"p":"w","g":127.6,"y":0.0169,"t":"0.016","k":"v"},
{"p":"x","g":7.3,"y":0.01856,"t":"S","k":"s"},{"p":"x","g":30.5,"y":0.0193,"t":"350–500","k":"u"},{"p":"x","g":30.5,"y":0.01816,"t":"X(3)","k":"u"},{"p":"x","g":129,"y":0.01827,"t":"0.018","k":"v"},
{"p":"y","g":4.25,"y":46.8,"t":"I","k":"s"},{"p":"y","g":15,"y":42.8,"t":"X(3)","k":"u"},{"p":"y","g":135.3,"y":44,"t":"51","k":"v"}
]
},
"data": {"name": "d"},
"columns": 5,
"spacing": {"row": 14.5, "column": 39.5},
"bounds": "flush",
"concat": [
{"title":"(a)","transform":[{"filter":"datum.p=='a'"}],"encoding":{"x":{"field":"g","type":"quantitative","title":null,"scale":{"domain":[-5,180]},"axis":{"values":[1,50,100,150],"labels":false}},"y":{"field":"lo","type":"quantitative","title":"m² mgChl-a⁻¹","scale":{"domain":[0.00984,0.0156]},"axis":{"values":[0.011,0.012,0.013,0.014,0.015],"format":".3f"}}},"layer":[
{"mark":{"type":"area","color":"#d6f1eb"},"encoding":{"y2":{"field":"hi"}}},
{"mark":{"type":"area","color":"#9edbcb"},"encoding":{"y":{"field":"a","type":"quantitative"},"y2":{"field":"d"}}},
{"mark":{"type":"area","color":"#5cbfa6"},"encoding":{"y":{"field":"b","type":"quantitative"},"y2":{"field":"c"}}},
{"mark":{"type":"line","color":"#2e8b57","strokeWidth":0.8},"encoding":{}},
{"mark":{"type":"line","color":"#2e8b57","strokeWidth":0.8},"encoding":{"y":{"field":"hi","type":"quantitative"}}},
{"mark":{"type":"line","color":"#2e8b57","strokeWidth":1.4},"encoding":{"y":{"field":"m","type":"quantitative"}}},
{"data":{"name":"lab"},"transform":[{"filter":"datum.p=='a'"}],"mark":{"type":"text","align":"left","baseline":"middle","color":"#222"},"encoding":{"y":{"field":"y","type":"quantitative"},"text":{"field":"t"},"size":{"field":"k","type":"ordinal","scale":{"domain":["s","u","v"],"range":[8.5,4.3,5]}}}}
]},
{"title":"(b)","transform":[{"filter":"datum.p=='b'"}],"encoding":{"x":{"field":"g","type":"quantitative","title":null,"scale":{"domain":[-5,180]},"axis":{"values":[1,50,100,150],"labels":false}},"y":{"field":"lo","type":"quantitative","title":"mgC μE⁻¹","scale":{"domain":[0.00071,0.001165]},"axis":{"values":[0.0008,0.0009,0.001,0.0011],"labelExpr":"replace(format(datum.value,'.1e'),'e-','e-0')"}}},"layer":[
{"mark":{"type":"area","color":"#d6f1eb"},"encoding":{"y2":{"field":"hi"}}},
{"mark":{"type":"area","color":"#9edbcb"},"encoding":{"y":{"field":"a","type":"quantitative"},"y2":{"field":"d"}}},
{"mark":{"type":"area","color":"#5cbfa6"},"encoding":{"y":{"field":"b","type":"quantitative"},"y2":{"field":"c"}}},
{"mark":{"type":"line","color":"#2e8b57","strokeWidth":0.8},"encoding":{}},
{"mark":{"type":"line","color":"#2e8b57","strokeWidth":0.8},"encoding":{"y":{"field":"hi","type":"quantitative"}}},
{"mark":{"type":"line","color":"#2e8b57","strokeWidth":1.4},"encoding":{"y":{"field":"m","type":"quantitative"}}},
{"data":{"name":"lab"},"transform":[{"filter":"datum.p=='b'"}],"mark":{"type":"text","align":"left","baseline":"middle","color":"#222"},"encoding":{"y":{"field":"y","type":"quantitative"},"text":{"field":"t"},"size":{"field":"k","type":"ordinal","scale":{"domain":["s","u","v"],"range":[8.5,4.3,5]}}}}
]},
{"title":"(c)","transform":[{"filter":"datum.p=='c'"}],"encoding":{"x":{"field":"g","type":"quantitative","title":null,"scale":{"domain":[-5,180]},"axis":{"values":[1,50,100,150],"labels":false}},"y":{"field":"lo","type":"quantitative","title":"mgChl-a mgC⁻¹","scale":{"domain":[0.0109,0.0284]},"axis":{"values":[0.015,0.02,0.025],"format":".3f"}}},"layer":[
{"mark":{"type":"area","color":"#d6f1eb"},"encoding":{"y2":{"field":"hi"}}},
{"mark":{"type":"area","color":"#9edbcb"},"encoding":{"y":{"field":"a","type":"quantitative"},"y2":{"field":"d"}}},
{"mark":{"type":"area","color":"#5cbfa6"},"encoding":{"y":{"field":"b","type":"quantitative"},"y2":{"field":"c"}}},
{"mark":{"type":"line","color":"#2e8b57","strokeWidth":0.8},"encoding":{}},
{"mark":{"type":"line","color":"#2e8b57","strokeWidth":0.8},"encoding":{"y":{"field":"hi","type":"quantitative"}}},
{"mark":{"type":"line","color":"#2e8b57","strokeWidth":1.4},"encoding":{"y":{"field":"m","type":"quantitative"}}},
{"data":{"name":"lab"},"transform":[{"filter":"datum.p=='c'"}],"mark":{"type":"text","align":"left","baseline":"middle","color":"#222"},"encoding":{"y":{"field":"y","type":"quantitative"},"text":{"field":"t"},"size":{"field":"k","type":"ordinal","scale":{"domain":["s","u","v"],"range":[8.5,4.3,5]}}}}
]},
{"title":"(d)","transform":[{"filter":"datum.p=='d'"}],"encoding":{"x":{"field":"g","type":"quantitative","title":null,"scale":{"domain":[-5,180]},"axis":{"values":[1,50,100,150],"labels":false}},"y":{"field":"lo","type":"quantitative","title":"-","scale":{"domain":[0.0094,0.094]},"axis":{"values":[0.02,0.04,0.06,0.08],"format":".2f"}}},"layer":[
{"mark":{"type":"area","color":"#fee3da"},"encoding":{"y2":{"field":"hi"}}},
{"mark":{"type":"area","color":"#fcb9a4"},"encoding":{"y":{"field":"a","type":"quantitative"},"y2":{"field":"d"}}},
{"mark":{"type":"area","color":"#f8916f"},"encoding":{"y":{"field":"b","type":"quantitative"},"y2":{"field":"c"}}},
{"mark":{"type":"line","color":"#e4622e","strokeWidth":0.8},"encoding":{}},
{"mark":{"type":"line","color":"#e4622e","strokeWidth":0.8},"encoding":{"y":{"field":"hi","type":"quantitative"}}},
{"mark":{"type":"line","color":"#e4622e","strokeWidth":1.4},"encoding":{"y":{"field":"m","type":"quantitative"}}},
{"data":{"name":"lab"},"transform":[{"filter":"datum.p=='d'"}],"mark":{"type":"text","align":"left","baseline":"middle","color":"#222"},"encoding":{"y":{"field":"y","type":"quantitative"},"text":{"field":"t"},"size":{"field":"k","type":"ordinal","scale":{"domain":["s","u","v"],"range":[8.5,4.3,5]}}}}
]},
{"title":"(e)","transform":[{"filter":"datum.p=='e'"}],"encoding":{"x":{"field":"g","type":"quantitative","title":null,"scale":{"domain":[-5,180]},"axis":{"values":[1,50,100,150],"labels":false}},"y":{"field":"lo","type":"quantitative","title":"-","scale":{"domain":[0.0094,0.094]},"axis":{"values":[0.02,0.04,0.06,0.08],"format":".2f"}}},"layer":[
{"mark":{"type":"area","color":"#fee3da"},"encoding":{"y2":{"field":"hi"}}},
{"mark":{"type":"area","color":"#fcb9a4"},"encoding":{"y":{"field":"a","type":"quantitative"},"y2":{"field":"d"}}},
{"mark":{"type":"area","color":"#f8916f"},"encoding":{"y":{"field":"b","type":"quantitative"},"y2":{"field":"c"}}},
{"mark":{"type":"line","color":"#e4622e","strokeWidth":0.8},"encoding":{}},
{"mark":{"type":"line","color":"#e4622e","strokeWidth":0.8},"encoding":{"y":{"field":"hi","type":"quantitative"}}},
{"mark":{"type":"line","color":"#e4622e","strokeWidth":1.4},"encoding":{"y":{"field":"m","type":"quantitative"}}},
{"data":{"name":"lab"},"transform":[{"filter":"datum.p=='e'"}],"mark":{"type":"text","align":"left","baseline":"middle","color":"#222"},"encoding":{"y":{"field":"y","type":"quantitative"},"text":{"field":"t"},"size":{"field":"k","type":"ordinal","scale":{"domain":["s","u","v"],"range":[8.5,4.3,5]}}}}
]},
{"title":"(f)","transform":[{"filter":"datum.p=='f'"}],"encoding":{"x":{"field":"g","type":"quantitative","title":null,"scale":{"domain":[-5,180]},"axis":{"values":[1,50,100,150],"labels":false}},"y":{"field":"lo","type":"quantitative","title":"m² mgChl-a⁻¹","scale":{"domain":[0.0162,0.0385]},"axis":{"values":[0.02,0.025,0.03,0.035],"format":".3f"}}},"layer":[
{"mark":{"type":"area","color":"#d6f1eb"},"encoding":{"y2":{"field":"hi"}}},
{"mark":{"type":"area","color":"#9edbcb"},"encoding":{"y":{"field":"a","type":"quantitative"},"y2":{"field":"d"}}},
{"mark":{"type":"area","color":"#5cbfa6"},"encoding":{"y":{"field":"b","type":"quantitative"},"y2":{"field":"c"}}},
{"mark":{"type":"line","color":"#2e8b57","strokeWidth":0.8},"encoding":{}},
{"mark":{"type":"line","color":"#2e8b57","strokeWidth":0.8},"encoding":{"y":{"field":"hi","type":"quantitative"}}},
{"mark":{"type":"line","color":"#2e8b57","strokeWidth":1.4},"encoding":{"y":{"field":"m","type":"quantitative"}}},
{"data":{"name":"lab"},"transform":[{"filter":"datum.p=='f'"}],"mark":{"type":"text","align":"left","baseline":"middle","color":"#222"},"encoding":{"y":{"field":"y","type":"quantitative"},"text":{"field":"t"},"size":{"field":"k","type":"ordinal","scale":{"domain":["s","u","v"],"range":[8.5,4.3,5]}}}}
]},
{"title":"(g)","transform":[{"filter":"datum.p=='g'"}],"encoding":{"x":{"field":"g","type":"quantitative","title":null,"scale":{"domain":[-5,180]},"axis":{"values":[1,50,100,150],"labels":false}},"y":{"field":"lo","type":"quantitative","title":"mgC μE⁻¹","scale":{"domain":[0.000107,0.000342]},"axis":{"values":[0.00015,0.0002,0.00025,0.0003],"labelExpr":"replace(format(datum.value,'.1e'),'e-','e-0')"}}},"layer":[
{"mark":{"type":"area","color":"#d6f1eb"},"encoding":{"y2":{"field":"hi"}}},
{"mark":{"type":"area","color":"#9edbcb"},"encoding":{"y":{"field":"a","type":"quantitative"},"y2":{"field":"d"}}},
{"mark":{"type":"area","color":"#5cbfa6"},"encoding":{"y":{"field":"b","type":"quantitative"},"y2":{"field":"c"}}},
{"mark":{"type":"line","color":"#2e8b57","strokeWidth":0.8},"encoding":{}},
{"mark":{"type":"line","color":"#2e8b57","strokeWidth":0.8},"encoding":{"y":{"field":"hi","type":"quantitative"}}},
{"mark":{"type":"line","color":"#2e8b57","strokeWidth":1.4},"encoding":{"y":{"field":"m","type":"quantitative"}}},
{"data":{"name":"lab"},"transform":[{"filter":"datum.p=='g'"}],"mark":{"type":"text","align":"left","baseline":"middle","color":"#222"},"encoding":{"y":{"field":"y","type":"quantitative"},"text":{"field":"t"},"size":{"field":"k","type":"ordinal","scale":{"domain":["s","u","v"],"range":[8.5,4.3,5]}}}}
]},
{"title":"(h)","transform":[{"filter":"datum.p=='h'"}],"encoding":{"x":{"field":"g","type":"quantitative","title":null,"scale":{"domain":[-5,180]},"axis":{"values":[1,50,100,150],"labels":false}},"y":{"field":"lo","type":"quantitative","title":"mgChl-a mgC⁻¹","scale":{"domain":[0.0105,0.044]},"axis":{"values":[0.015,0.02,0.025,0.03,0.035,0.04],"format":".3f"}}},"layer":[
{"mark":{"type":"area","color":"#d6f1eb"},"encoding":{"y2":{"field":"hi"}}},
{"mark":{"type":"area","color":"#9edbcb"},"encoding":{"y":{"field":"a","type":"quantitative"},"y2":{"field":"d"}}},
{"mark":{"type":"area","color":"#5cbfa6"},"encoding":{"y":{"field":"b","type":"quantitative"},"y2":{"field":"c"}}},
{"mark":{"type":"line","color":"#2e8b57","strokeWidth":0.8},"encoding":{}},
{"mark":{"type":"line","color":"#2e8b57","strokeWidth":0.8},"encoding":{"y":{"field":"hi","type":"quantitative"}}},
{"mark":{"type":"line","color":"#2e8b57","strokeWidth":1.4},"encoding":{"y":{"field":"m","type":"quantitative"}}},
{"data":{"name":"lab"},"transform":[{"filter":"datum.p=='h'"}],"mark":{"type":"text","align":"left","baseline":"middle","color":"#222"},"encoding":{"y":{"field":"y","type":"quantitative"},"text":{"field":"t"},"size":{"field":"k","type":"ordinal","scale":{"domain":["s","u","v"],"range":[8.5,4.3,5]}}}}
]},
{"title":"(i)","transform":[{"filter":"datum.p=='i'"}],"encoding":{"x":{"field":"g","type":"quantitative","title":null,"scale":{"domain":[-5,180]},"axis":{"values":[1,50,100,150],"labels":false}},"y":{"field":"lo","type":"quantitative","title":"-","scale":{"domain":[0.0098,0.099]},"axis":{"values":[0.02,0.04,0.06,0.08],"format":".2f"}}},"layer":[
{"mark":{"type":"area","color":"#fee3da"},"encoding":{"y2":{"field":"hi"}}},
{"mark":{"type":"area","color":"#fcb9a4"},"encoding":{"y":{"field":"a","type":"quantitative"},"y2":{"field":"d"}}},
{"mark":{"type":"area","color":"#f8916f"},"encoding":{"y":{"field":"b","type":"quantitative"},"y2":{"field":"c"}}},
{"mark":{"type":"line","color":"#e4622e","strokeWidth":0.8},"encoding":{}},
{"mark":{"type":"line","color":"#e4622e","strokeWidth":0.8},"encoding":{"y":{"field":"hi","type":"quantitative"}}},
{"mark":{"type":"line","color":"#e4622e","strokeWidth":1.4},"encoding":{"y":{"field":"m","type":"quantitative"}}},
{"data":{"name":"lab"},"transform":[{"filter":"datum.p=='i'"}],"mark":{"type":"text","align":"left","baseline":"middle","color":"#222"},"encoding":{"y":{"field":"y","type":"quantitative"},"text":{"field":"t"},"size":{"field":"k","type":"ordinal","scale":{"domain":["s","u","v"],"range":[8.5,4.3,5]}}}}
]},
{"title":"(j)","transform":[{"filter":"datum.p=='j'"}],"encoding":{"x":{"field":"g","type":"quantitative","title":null,"scale":{"domain":[-5,180]},"axis":{"values":[1,50,100,150],"labels":false}},"y":{"field":"lo","type":"quantitative","title":"-","scale":{"domain":[0.0098,0.099]},"axis":{"values":[0.02,0.04,0.06,0.08],"format":".2f"}}},"layer":[
{"mark":{"type":"area","color":"#fee3da"},"encoding":{"y2":{"field":"hi"}}},
{"mark":{"type":"area","color":"#fcb9a4"},"encoding":{"y":{"field":"a","type":"quantitative"},"y2":{"field":"d"}}},
{"mark":{"type":"area","color":"#f8916f"},"encoding":{"y":{"field":"b","type":"quantitative"},"y2":{"field":"c"}}},
{"mark":{"type":"line","color":"#e4622e","strokeWidth":0.8},"encoding":{}},
{"mark":{"type":"line","color":"#e4622e","strokeWidth":0.8},"encoding":{"y":{"field":"hi","type":"quantitative"}}},
{"mark":{"type":"line","color":"#e4622e","strokeWidth":1.4},"encoding":{"y":{"field":"m","type":"quantitative"}}},
{"data":{"name":"lab"},"transform":[{"filter":"datum.p=='j'"}],"mark":{"type":"text","align":"left","baseline":"middle","color":"#222"},"encoding":{"y":{"field":"y","type":"quantitative"},"text":{"field":"t"},"size":{"field":"k","type":"ordinal","scale":{"domain":["s","u","v"],"range":[8.5,4.3,5]}}}}
]},
{"title":"(k)","transform":[{"filter":"datum.p=='k'"}],"encoding":{"x":{"field":"g","type":"quantitative","title":null,"scale":{"domain":[-5,180]},"axis":{"values":[1,50,100,150],"labels":false}},"y":{"field":"lo","type":"quantitative","title":"m² mgChl-a⁻¹","scale":{"domain":[0.0218,0.0447]},"axis":{"values":[0.025,0.03,0.035,0.04],"format":".3f"}}},"layer":[
{"mark":{"type":"area","color":"#d6f1eb"},"encoding":{"y2":{"field":"hi"}}},
{"mark":{"type":"area","color":"#9edbcb"},"encoding":{"y":{"field":"a","type":"quantitative"},"y2":{"field":"d"}}},
{"mark":{"type":"area","color":"#5cbfa6"},"encoding":{"y":{"field":"b","type":"quantitative"},"y2":{"field":"c"}}},
{"mark":{"type":"line","color":"#2e8b57","strokeWidth":0.8},"encoding":{}},
{"mark":{"type":"line","color":"#2e8b57","strokeWidth":0.8},"encoding":{"y":{"field":"hi","type":"quantitative"}}},
{"mark":{"type":"line","color":"#2e8b57","strokeWidth":1.4},"encoding":{"y":{"field":"m","type":"quantitative"}}},
{"data":{"name":"lab"},"transform":[{"filter":"datum.p=='k'"}],"mark":{"type":"text","align":"left","baseline":"middle","color":"#222"},"encoding":{"y":{"field":"y","type":"quantitative"},"text":{"field":"t"},"size":{"field":"k","type":"ordinal","scale":{"domain":["s","u","v"],"range":[8.5,4.3,5]}}}}
]},
{"title":"(l)","transform":[{"filter":"datum.p=='l'"}],"encoding":{"x":{"field":"g","type":"quantitative","title":null,"scale":{"domain":[-5,180]},"axis":{"values":[1,50,100,150],"labels":false}},"y":{"field":"lo","type":"quantitative","title":"mgC μE⁻¹","scale":{"domain":[0.00033,0.001]},"axis":{"values":[0.00044,0.00058,0.00072,0.00086],"labelExpr":"replace(format(datum.value,'.1e'),'e-','e-0')"}}},"layer":[
{"mark":{"type":"area","color":"#d6f1eb"},"encoding":{"y2":{"field":"hi"}}},
{"mark":{"type":"area","color":"#9edbcb"},"encoding":{"y":{"field":"a","type":"quantitative"},"y2":{"field":"d"}}},
{"mark":{"type":"area","color":"#5cbfa6"},"encoding":{"y":{"field":"b","type":"quantitative"},"y2":{"field":"c"}}},
{"mark":{"type":"line","color":"#2e8b57","strokeWidth":0.8},"encoding":{}},
{"mark":{"type":"line","color":"#2e8b57","strokeWidth":0.8},"encoding":{"y":{"field":"hi","type":"quantitative"}}},
{"mark":{"type":"line","color":"#2e8b57","strokeWidth":1.4},"encoding":{"y":{"field":"m","type":"quantitative"}}},
{"data":{"name":"lab"},"transform":[{"filter":"datum.p=='l'"}],"mark":{"type":"text","align":"left","baseline":"middle","color":"#222"},"encoding":{"y":{"field":"y","type":"quantitative"},"text":{"field":"t"},"size":{"field":"k","type":"ordinal","scale":{"domain":["s","u","v"],"range":[8.5,4.3,5]}}}}
]},
{"title":"(m)","transform":[{"filter":"datum.p=='m'"}],"encoding":{"x":{"field":"g","type":"quantitative","title":null,"scale":{"domain":[-5,180]},"axis":{"values":[1,50,100,150],"labels":false}},"y":{"field":"lo","type":"quantitative","title":"mgChl-a mgC⁻¹","scale":{"domain":[0.0112,0.0431]},"axis":{"values":[0.015,0.02,0.025,0.03,0.035,0.04],"format":".3f"}}},"layer":[
{"mark":{"type":"area","color":"#d6f1eb"},"encoding":{"y2":{"field":"hi"}}},
{"mark":{"type":"area","color":"#9edbcb"},"encoding":{"y":{"field":"a","type":"quantitative"},"y2":{"field":"d"}}},
{"mark":{"type":"area","color":"#5cbfa6"},"encoding":{"y":{"field":"b","type":"quantitative"},"y2":{"field":"c"}}},
{"mark":{"type":"line","color":"#2e8b57","strokeWidth":0.8},"encoding":{}},
{"mark":{"type":"line","color":"#2e8b57","strokeWidth":0.8},"encoding":{"y":{"field":"hi","type":"quantitative"}}},
{"mark":{"type":"line","color":"#2e8b57","strokeWidth":1.4},"encoding":{"y":{"field":"m","type":"quantitative"}}},
{"data":{"name":"lab"},"transform":[{"filter":"datum.p=='m'"}],"mark":{"type":"text","align":"left","baseline":"middle","color":"#222"},"encoding":{"y":{"field":"y","type":"quantitative"},"text":{"field":"t"},"size":{"field":"k","type":"ordinal","scale":{"domain":["s","u","v"],"range":[8.5,4.3,5]}}}}
]},
{"title":"(n)","transform":[{"filter":"datum.p=='n'"}],"encoding":{"x":{"field":"g","type":"quantitative","title":null,"scale":{"domain":[-5,180]},"axis":{"values":[1,50,100,150],"labels":false}},"y":{"field":"lo","type":"quantitative","title":"-","scale":{"domain":[0.013,0.097]},"axis":{"values":[0.02,0.04,0.06,0.08],"format":".2f"}}},"layer":[
{"mark":{"type":"area","color":"#fee3da"},"encoding":{"y2":{"field":"hi"}}},
{"mark":{"type":"area","color":"#fcb9a4"},"encoding":{"y":{"field":"a","type":"quantitative"},"y2":{"field":"d"}}},
{"mark":{"type":"area","color":"#f8916f"},"encoding":{"y":{"field":"b","type":"quantitative"},"y2":{"field":"c"}}},
{"mark":{"type":"line","color":"#e4622e","strokeWidth":0.8},"encoding":{}},
{"mark":{"type":"line","color":"#e4622e","strokeWidth":0.8},"encoding":{"y":{"field":"hi","type":"quantitative"}}},
{"mark":{"type":"line","color":"#e4622e","strokeWidth":1.4},"encoding":{"y":{"field":"m","type":"quantitative"}}},
{"data":{"name":"lab"},"transform":[{"filter":"datum.p=='n'"}],"mark":{"type":"text","align":"left","baseline":"middle","color":"#222"},"encoding":{"y":{"field":"y","type":"quantitative"},"text":{"field":"t"},"size":{"field":"k","type":"ordinal","scale":{"domain":["s","u","v"],"range":[8.5,4.3,5]}}}}
]},
{"title":"(o)","transform":[{"filter":"datum.p=='o'"}],"encoding":{"x":{"field":"g","type":"quantitative","title":null,"scale":{"domain":[-5,180]},"axis":{"values":[1,50,100,150],"labels":false}},"y":{"field":"lo","type":"quantitative","title":"-","scale":{"domain":[0.013,0.097]},"axis":{"values":[0.02,0.04,0.06,0.08],"format":".2f"}}},"layer":[
{"mark":{"type":"area","color":"#fee3da"},"encoding":{"y2":{"field":"hi"}}},
{"mark":{"type":"area","color":"#fcb9a4"},"encoding":{"y":{"field":"a","type":"quantitative"},"y2":{"field":"d"}}},
{"mark":{"type":"area","color":"#f8916f"},"encoding":{"y":{"field":"b","type":"quantitative"},"y2":{"field":"c"}}},
{"mark":{"type":"line","color":"#e4622e","strokeWidth":0.8},"encoding":{}},
{"mark":{"type":"line","color":"#e4622e","strokeWidth":0.8},"encoding":{"y":{"field":"hi","type":"quantitative"}}},
{"mark":{"type":"line","color":"#e4622e","strokeWidth":1.4},"encoding":{"y":{"field":"m","type":"quantitative"}}},
{"data":{"name":"lab"},"transform":[{"filter":"datum.p=='o'"}],"mark":{"type":"text","align":"left","baseline":"middle","color":"#222"},"encoding":{"y":{"field":"y","type":"quantitative"},"text":{"field":"t"},"size":{"field":"k","type":"ordinal","scale":{"domain":["s","u","v"],"range":[8.5,4.3,5]}}}}
]},
{"title":"(p)","transform":[{"filter":"datum.p=='p'"}],"encoding":{"x":{"field":"g","type":"quantitative","title":null,"scale":{"domain":[-5,180]},"axis":{"values":[1,50,100,150],"labels":false}},"y":{"field":"lo","type":"quantitative","title":"m² mgChl-a⁻¹","scale":{"domain":[0.0108,0.0244]},"axis":{"values":[0.012,0.014,0.016,0.018,0.02,0.022,0.024],"format":".3f"}}},"layer":[
{"mark":{"type":"area","color":"#d6f1eb"},"encoding":{"y2":{"field":"hi"}}},
{"mark":{"type":"area","color":"#9edbcb"},"encoding":{"y":{"field":"a","type":"quantitative"},"y2":{"field":"d"}}},
{"mark":{"type":"area","color":"#5cbfa6"},"encoding":{"y":{"field":"b","type":"quantitative"},"y2":{"field":"c"}}},
{"mark":{"type":"line","color":"#2e8b57","strokeWidth":0.8},"encoding":{}},
{"mark":{"type":"line","color":"#2e8b57","strokeWidth":0.8},"encoding":{"y":{"field":"hi","type":"quantitative"}}},
{"mark":{"type":"line","color":"#2e8b57","strokeWidth":1.4},"encoding":{"y":{"field":"m","type":"quantitative"}}},
{"data":{"name":"lab"},"transform":[{"filter":"datum.p=='p'"}],"mark":{"type":"text","align":"left","baseline":"middle","color":"#222"},"encoding":{"y":{"field":"y","type":"quantitative"},"text":{"field":"t"},"size":{"field":"k","type":"ordinal","scale":{"domain":["s","u","v"],"range":[8.5,4.3,5]}}}}
]},
{"title":"(q)","transform":[{"filter":"datum.p=='q'"}],"encoding":{"x":{"field":"g","type":"quantitative","title":null,"scale":{"domain":[-5,180]},"axis":{"values":[1,50,100,150],"labels":false}},"y":{"field":"lo","type":"quantitative","title":"mgC μE⁻¹","scale":{"domain":[0.00016,0.00045]},"axis":{"values":[0.00021,0.00027,0.00033,0.00039],"labelExpr":"replace(format(datum.value,'.1e'),'e-','e-0')"}}},"layer":[
{"mark":{"type":"area","color":"#d6f1eb"},"encoding":{"y2":{"field":"hi"}}},
{"mark":{"type":"area","color":"#9edbcb"},"encoding":{"y":{"field":"a","type":"quantitative"},"y2":{"field":"d"}}},
{"mark":{"type":"area","color":"#5cbfa6"},"encoding":{"y":{"field":"b","type":"quantitative"},"y2":{"field":"c"}}},
{"mark":{"type":"line","color":"#2e8b57","strokeWidth":0.8},"encoding":{}},
{"mark":{"type":"line","color":"#2e8b57","strokeWidth":0.8},"encoding":{"y":{"field":"hi","type":"quantitative"}}},
{"mark":{"type":"line","color":"#2e8b57","strokeWidth":1.4},"encoding":{"y":{"field":"m","type":"quantitative"}}},
{"data":{"name":"lab"},"transform":[{"filter":"datum.p=='q'"}],"mark":{"type":"text","align":"left","baseline":"middle","color":"#222"},"encoding":{"y":{"field":"y","type":"quantitative"},"text":{"field":"t"},"size":{"field":"k","type":"ordinal","scale":{"domain":["s","u","v"],"range":[8.5,4.3,5]}}}}
]},
{"title":"(r)","transform":[{"filter":"datum.p=='r'"}],"encoding":{"x":{"field":"g","type":"quantitative","title":null,"scale":{"domain":[-5,180]},"axis":{"values":[1,50,100,150],"labels":false}},"y":{"field":"lo","type":"quantitative","title":"mgChl-a mgC⁻¹","scale":{"domain":[0.011,0.0298]},"axis":{"values":[0.015,0.02,0.025],"format":".3f"}}},"layer":[
{"mark":{"type":"area","color":"#d6f1eb"},"encoding":{"y2":{"field":"hi"}}},
{"mark":{"type":"area","color":"#9edbcb"},"encoding":{"y":{"field":"a","type":"quantitative"},"y2":{"field":"d"}}},
{"mark":{"type":"area","color":"#5cbfa6"},"encoding":{"y":{"field":"b","type":"quantitative"},"y2":{"field":"c"}}},
{"mark":{"type":"line","color":"#2e8b57","strokeWidth":0.8},"encoding":{}},
{"mark":{"type":"line","color":"#2e8b57","strokeWidth":0.8},"encoding":{"y":{"field":"hi","type":"quantitative"}}},
{"mark":{"type":"line","color":"#2e8b57","strokeWidth":1.4},"encoding":{"y":{"field":"m","type":"quantitative"}}},
{"data":{"name":"lab"},"transform":[{"filter":"datum.p=='r'"}],"mark":{"type":"text","align":"left","baseline":"middle","color":"#222"},"encoding":{"y":{"field":"y","type":"quantitative"},"text":{"field":"t"},"size":{"field":"k","type":"ordinal","scale":{"domain":["s","u","v"],"range":[8.5,4.3,5]}}}}
]},
{"title":"(s)","transform":[{"filter":"datum.p=='s'"}],"encoding":{"x":{"field":"g","type":"quantitative","title":null,"scale":{"domain":[-5,180]},"axis":{"values":[1,50,100,150],"labels":false}},"y":{"field":"lo","type":"quantitative","title":"-","scale":{"domain":[0.0144,0.0984]},"axis":{"values":[0.02,0.04,0.06,0.08],"format":".2f"}}},"layer":[
{"mark":{"type":"area","color":"#fee3da"},"encoding":{"y2":{"field":"hi"}}},
{"mark":{"type":"area","color":"#fcb9a4"},"encoding":{"y":{"field":"a","type":"quantitative"},"y2":{"field":"d"}}},
{"mark":{"type":"area","color":"#f8916f"},"encoding":{"y":{"field":"b","type":"quantitative"},"y2":{"field":"c"}}},
{"mark":{"type":"line","color":"#e4622e","strokeWidth":0.8},"encoding":{}},
{"mark":{"type":"line","color":"#e4622e","strokeWidth":0.8},"encoding":{"y":{"field":"hi","type":"quantitative"}}},
{"mark":{"type":"line","color":"#e4622e","strokeWidth":1.4},"encoding":{"y":{"field":"m","type":"quantitative"}}},
{"data":{"name":"lab"},"transform":[{"filter":"datum.p=='s'"}],"mark":{"type":"text","align":"left","baseline":"middle","color":"#222"},"encoding":{"y":{"field":"y","type":"quantitative"},"text":{"field":"t"},"size":{"field":"k","type":"ordinal","scale":{"domain":["s","u","v"],"range":[8.5,4.3,5]}}}}
]},
{"title":"(t)","transform":[{"filter":"datum.p=='t'"}],"encoding":{"x":{"field":"g","type":"quantitative","title":null,"scale":{"domain":[-5,180]},"axis":{"values":[1,50,100,150],"labels":false}},"y":{"field":"lo","type":"quantitative","title":"d⁻¹","scale":{"domain":[-0.005,0.162]},"axis":{"values":[0.05,0.1,0.15],"format":".2f"}}},"layer":[
{"mark":{"type":"area","color":"#fee3da"},"encoding":{"y2":{"field":"hi"}}},
{"mark":{"type":"area","color":"#fcb9a4"},"encoding":{"y":{"field":"a","type":"quantitative"},"y2":{"field":"d"}}},
{"mark":{"type":"area","color":"#f8916f"},"encoding":{"y":{"field":"b","type":"quantitative"},"y2":{"field":"c"}}},
{"mark":{"type":"line","color":"#e4622e","strokeWidth":0.8},"encoding":{}},
{"mark":{"type":"line","color":"#e4622e","strokeWidth":0.8},"encoding":{"y":{"field":"hi","type":"quantitative"}}},
{"mark":{"type":"line","color":"#e4622e","strokeWidth":1.4},"encoding":{"y":{"field":"m","type":"quantitative"}}},
{"data":{"name":"lab"},"transform":[{"filter":"datum.p=='t'"}],"mark":{"type":"text","align":"left","baseline":"middle","color":"#222"},"encoding":{"y":{"field":"y","type":"quantitative"},"text":{"field":"t"},"size":{"field":"k","type":"ordinal","scale":{"domain":["s","u","v"],"range":[8.5,4.3,5]}}}}
]},
{"title":"(u)","transform":[{"filter":"datum.p=='u'"}],"encoding":{"x":{"field":"g","type":"quantitative","title":"generation","scale":{"domain":[-5,180]},"axis":{"values":[1,50,100,150]}},"y":{"field":"lo","type":"quantitative","title":"m² mgC⁻¹","scale":{"domain":[0.00013,0.00099]},"axis":{"values":[0.0002,0.0004,0.0006,0.0008],"labelExpr":"replace(format(datum.value,'.0e'),'e-','e-0')"}}},"layer":[
{"mark":{"type":"area","color":"#e8e8e8"},"encoding":{"y2":{"field":"hi"}}},
{"mark":{"type":"area","color":"#c4c4c4"},"encoding":{"y":{"field":"a","type":"quantitative"},"y2":{"field":"d"}}},
{"mark":{"type":"area","color":"#999999"},"encoding":{"y":{"field":"b","type":"quantitative"},"y2":{"field":"c"}}},
{"mark":{"type":"line","color":"#222222","strokeWidth":0.8},"encoding":{}},
{"mark":{"type":"line","color":"#222222","strokeWidth":0.8},"encoding":{"y":{"field":"hi","type":"quantitative"}}},
{"mark":{"type":"line","color":"#222222","strokeWidth":1.4},"encoding":{"y":{"field":"m","type":"quantitative"}}},
{"data":{"name":"lab"},"transform":[{"filter":"datum.p=='u'"}],"mark":{"type":"text","align":"left","baseline":"middle","color":"#222"},"encoding":{"y":{"field":"y","type":"quantitative"},"text":{"field":"t"},"size":{"field":"k","type":"ordinal","scale":{"domain":["s","u","v"],"range":[8.5,4.3,5]}}}}
]},
{"title":"(v)","transform":[{"filter":"datum.p=='v'"}],"encoding":{"x":{"field":"g","type":"quantitative","title":"generation","scale":{"domain":[-5,180]},"axis":{"values":[1,50,100,150]}},"y":{"field":"lo","type":"quantitative","title":"nm⁻¹","scale":{"domain":[0.0142,0.0196]},"axis":{"values":[0.015,0.016,0.017,0.018,0.019],"format":".3f"}}},"layer":[
{"mark":{"type":"area","color":"#fee3da"},"encoding":{"y2":{"field":"hi"}}},
{"mark":{"type":"area","color":"#fcb9a4"},"encoding":{"y":{"field":"a","type":"quantitative"},"y2":{"field":"d"}}},
{"mark":{"type":"area","color":"#f8916f"},"encoding":{"y":{"field":"b","type":"quantitative"},"y2":{"field":"c"}}},
{"mark":{"type":"line","color":"#e4622e","strokeWidth":0.8},"encoding":{}},
{"mark":{"type":"line","color":"#e4622e","strokeWidth":0.8},"encoding":{"y":{"field":"hi","type":"quantitative"}}},
{"mark":{"type":"line","color":"#e4622e","strokeWidth":1.4},"encoding":{"y":{"field":"m","type":"quantitative"}}},
{"data":{"name":"lab"},"transform":[{"filter":"datum.p=='v'"}],"mark":{"type":"text","align":"left","baseline":"middle","color":"#222"},"encoding":{"y":{"field":"y","type":"quantitative"},"text":{"field":"t"},"size":{"field":"k","type":"ordinal","scale":{"domain":["s","u","v"],"range":[8.5,4.3,5]}}}}
]},
{"title":"(w)","transform":[{"filter":"datum.p=='w'"}],"encoding":{"x":{"field":"g","type":"quantitative","title":"generation","scale":{"domain":[-5,180]},"axis":{"values":[1,50,100,150]}},"y":{"field":"lo","type":"quantitative","title":"nm⁻¹","scale":{"domain":[0.0142,0.0196]},"axis":{"values":[0.015,0.016,0.017,0.018,0.019],"format":".3f"}}},"layer":[
{"mark":{"type":"area","color":"#fee3da"},"encoding":{"y2":{"field":"hi"}}},
{"mark":{"type":"area","color":"#fcb9a4"},"encoding":{"y":{"field":"a","type":"quantitative"},"y2":{"field":"d"}}},
{"mark":{"type":"area","color":"#f8916f"},"encoding":{"y":{"field":"b","type":"quantitative"},"y2":{"field":"c"}}},
{"mark":{"type":"line","color":"#e4622e","strokeWidth":0.8},"encoding":{}},
{"mark":{"type":"line","color":"#e4622e","strokeWidth":0.8},"encoding":{"y":{"field":"hi","type":"quantitative"}}},
{"mark":{"type":"line","color":"#e4622e","strokeWidth":1.4},"encoding":{"y":{"field":"m","type":"quantitative"}}},
{"data":{"name":"lab"},"transform":[{"filter":"datum.p=='w'"}],"mark":{"type":"text","align":"left","baseline":"middle","color":"#222"},"encoding":{"y":{"field":"y","type":"quantitative"},"text":{"field":"t"},"size":{"field":"k","type":"ordinal","scale":{"domain":["s","u","v"],"range":[8.5,4.3,5]}}}}
]},
{"title":"(x)","transform":[{"filter":"datum.p=='x'"}],"encoding":{"x":{"field":"g","type":"quantitative","title":"generation","scale":{"domain":[-5,180]},"axis":{"values":[1,50,100,150]}},"y":{"field":"lo","type":"quantitative","title":"nm⁻¹","scale":{"domain":[0.0141,0.0197]},"axis":{"values":[0.015,0.016,0.017,0.018,0.019],"format":".3f"}}},"layer":[
{"mark":{"type":"area","color":"#fee3da"},"encoding":{"y2":{"field":"hi"}}},
{"mark":{"type":"area","color":"#fcb9a4"},"encoding":{"y":{"field":"a","type":"quantitative"},"y2":{"field":"d"}}},
{"mark":{"type":"area","color":"#f8916f"},"encoding":{"y":{"field":"b","type":"quantitative"},"y2":{"field":"c"}}},
{"mark":{"type":"line","color":"#e4622e","strokeWidth":0.8},"encoding":{}},
{"mark":{"type":"line","color":"#e4622e","strokeWidth":0.8},"encoding":{"y":{"field":"hi","type":"quantitative"}}},
{"mark":{"type":"line","color":"#e4622e","strokeWidth":1.4},"encoding":{"y":{"field":"m","type":"quantitative"}}},
{"data":{"name":"lab"},"transform":[{"filter":"datum.p=='x'"}],"mark":{"type":"text","align":"left","baseline":"middle","color":"#222"},"encoding":{"y":{"field":"y","type":"quantitative"},"text":{"field":"t"},"size":{"field":"k","type":"ordinal","scale":{"domain":["s","u","v"],"range":[8.5,4.3,5]}}}}
]},
{"title":"(y)","transform":[{"filter":"datum.p=='y'"}],"encoding":{"x":{"field":"g","type":"quantitative","title":"generation","scale":{"domain":[-5,180]},"axis":{"values":[1,50,100,150]}},"y":{"field":"lo","type":"quantitative","title":"μE⁻¹ m⁻² s⁻¹","scale":{"domain":[3.9,60]},"axis":{"values":[10,20,30,40,50],"format":"d"}}},"layer":[
{"mark":{"type":"area","color":"#fee3da"},"encoding":{"y2":{"field":"hi"}}},
{"mark":{"type":"area","color":"#fcb9a4"},"encoding":{"y":{"field":"a","type":"quantitative"},"y2":{"field":"d"}}},
{"mark":{"type":"area","color":"#f8916f"},"encoding":{"y":{"field":"b","type":"quantitative"},"y2":{"field":"c"}}},
{"mark":{"type":"line","color":"#e4622e","strokeWidth":0.8},"encoding":{}},
{"mark":{"type":"line","color":"#e4622e","strokeWidth":0.8},"encoding":{"y":{"field":"hi","type":"quantitative"}}},
{"mark":{"type":"line","color":"#e4622e","strokeWidth":1.4},"encoding":{"y":{"field":"m","type":"quantitative"}}},
{"data":{"name":"lab"},"transform":[{"filter":"datum.p=='y'"}],"mark":{"type":"text","align":"left","baseline":"middle","color":"#222"},"encoding":{"y":{"field":"y","type":"quantitative"},"text":{"field":"t"},"size":{"field":"k","type":"ordinal","scale":{"domain":["s","u","v"],"range":[8.5,4.3,5]}}}}
]}
],
"config": {
"font": "Liberation Sans",
"view": {"continuousWidth": 60, "continuousHeight": 49, "stroke": "#222", "strokeWidth": 0.8},
"axis": {"grid": false, "domain": false, "tickColor": "#222", "tickSize": 3, "tickWidth": 0.7, "labelFontSize": 6, "labelColor": "#222", "labelPadding": 1.5, "labelFlush": false, "labelOverlap": false, "titleFontWeight": "normal", "titleColor": "#222"},
"axisX": {"titleFontSize": 6.5, "titlePadding": 1},
"axisY": {"titleFontSize": 5.5, "titlePadding": 5},
"title": {"fontSize": 10.5, "fontWeight": "normal", "anchor": "start", "frame": "group", "offset": 1, "dx": -15, "color": "#222"},
"legend": {"disable": true}
}
}
